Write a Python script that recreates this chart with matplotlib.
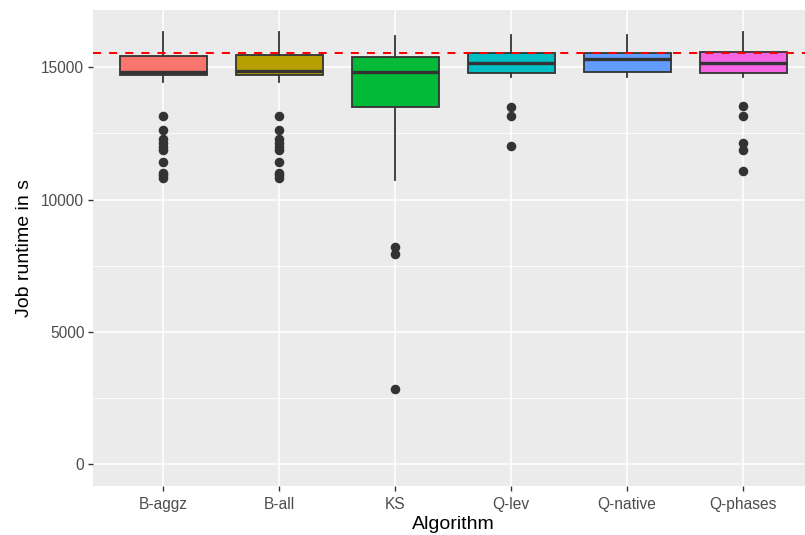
import numpy as np
import matplotlib
matplotlib.use("Agg")
import matplotlib.pyplot as plt

# runtime summary per algorithm (seconds)
algos   = ["B-aggz", "B-all", "KS", "Q-lev", "Q-native", "Q-phases"]
med     = [14822, 14849, 14834, 15174, 15314, 15174]
q1      = [14709, 14709, 13512, 14796, 14834, 14774]
q3      = [15427, 15465, 15400, 15540, 15529, 15567]
whislo  = [14434, 14434, 10744, 14622, 14622, 14622]
whishi  = [16322, 16322, 16193, 16223, 16223, 16333]
fliers  = [
    [13161, 12632, 12273, 12141, 11990, 11858, 11435, 11008, 10914, 10820],
    [13161, 12632, 12273, 12141, 11990, 11858, 11435, 11008, 10914, 10820],
    [8225, 7950, 2840],
    [13512, 13161, 12039],
    [],
    [13539, 13161, 12141, 11877, 11073],
]
limit = 15550   # walltime limit

fills = ["#F8766D", "#B79F00", "#00BA38", "#00BFC4", "#619CFF", "#F564E3"]

#graph format settings
plt.rcParams['font.family'] = ['Liberation Sans', 'DejaVu Sans']
plt.rcParams['axes.linewidth'] = 0

fig = plt.figure(figsize=(8.05, 5.35), dpi=100)
ax = fig.add_axes([93.4/805, 1-486/535, (812.6-93.4)/805, (486-10)/535])
ax.set_facecolor("#EBEBEB")

stats = []
for i in range(len(algos)):
    stats.append(dict(med=med[i], q1=q1[i], q3=q3[i], whislo=whislo[i], whishi=whishi[i],
                      fliers=fliers[i], label=algos[i]))

bp = ax.bxp(stats, positions=np.arange(1, len(algos)+1), widths=0.75, patch_artist=True,
            showcaps=False, zorder=3,
            boxprops=dict(edgecolor="#333333", linewidth=1.3),
            whiskerprops=dict(color="#333333", linewidth=1.3),
            medianprops=dict(color="#333333", linewidth=2.4, solid_capstyle="butt"),
            flierprops=dict(marker="o", markersize=6.9, markerfacecolor="#333333",
                            markeredgewidth=0, linestyle="none"))
for patch, c in zip(bp["boxes"], fills):
    patch.set_facecolor(c)

ax.axhline(limit, color="red", linewidth=1.45, linestyle=(0, (4, 4)), zorder=4)

ax.set_xlim(0.4, 6.6)
ax.set_ylim(-817, 17157)
ax.set_yticks([0, 5000, 10000, 15000])
ax.set_yticks([2500, 7500, 12500], minor=True)
ax.grid(True, which="major", color="white", linewidth=1.1, zorder=0)
ax.grid(True, which="minor", axis="y", color="white", linewidth=0.55, zorder=0)
ax.set_axisbelow(True)
ax.tick_params(which="major", length=3.5, width=1.0, color="#333333", labelcolor="#4D4D4D",
               labelsize=11.2, pad=3)
ax.tick_params(axis="x", pad=4.5)
ax.tick_params(which="minor", length=0)
for s in ax.spines.values():
    s.set_visible(False)

ax.set_xlabel("Algorithm", fontsize=14, labelpad=3)
ax.set_ylabel("Job runtime in s", fontsize=14, labelpad=6)

fig.savefig("out.png", dpi=100)
